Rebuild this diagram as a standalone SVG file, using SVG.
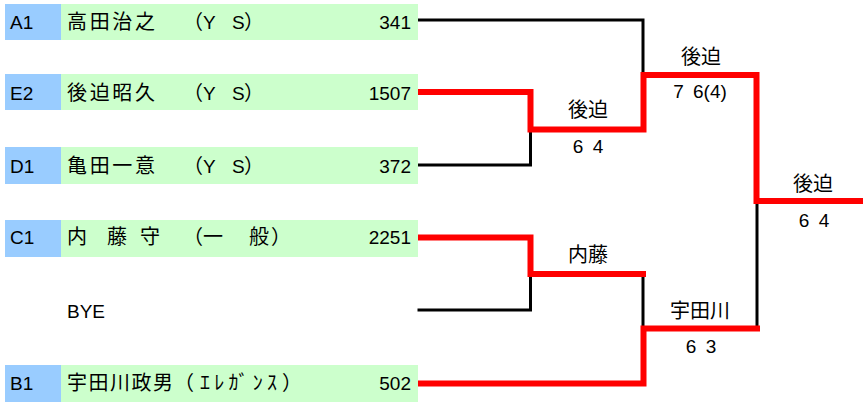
<svg xmlns="http://www.w3.org/2000/svg" width="863" height="403" viewBox="0 0 863 403">
<style>
.seed{fill:#99CCFF}
.name{fill:#CCFFCC}
.t{font-family:"Liberation Sans",Arial,sans-serif;font-size:19px;fill:#000}
.j{font-family:"Noto Sans CJK JP","Noto Sans CJK SC",sans-serif;font-size:20px;fill:#000}
.n{text-anchor:end}
.c{text-anchor:middle}
.blk{fill:none;stroke:#000;stroke-width:3;stroke-linecap:square}
.red{fill:none;stroke:#FF0000;stroke-width:6;stroke-linecap:square;stroke-linejoin:miter}
</style>
<rect width="863" height="403" fill="#fff"/>
<g id="connectors">
<path class="blk" d="M419 20 H643 V72"/>
<path class="blk" d="M419 165 H530.5 V132"/>
<path class="blk" d="M419 310 H530.5 V277"/>
<path class="blk" d="M643 277 V326"/>
<path class="blk" d="M757 326 V204"/>
<path class="red" d="M421 92 H530.5 V129.5 H643.5 V75 H756.5 V201 H863"/>
<path class="red" d="M421 237.5 H530.5 V274 H643"/>
<path class="red" d="M421 383.5 H643.5 V328.5 H757"/>
</g>
<g id="A1">
<rect class="seed" x="5" y="4" width="56" height="36"/>
<rect class="name" x="61" y="4" width="357" height="36"/>
<text class="t" x="10" y="28.5">A1</text>
<text class="j" x="67" y="28.5" textLength="88" lengthAdjust="spacing">高田治之</text>
<text class="j" x="183" y="28.5">（</text><text class="t" x="203" y="28.5">Y</text><text class="t" x="232" y="28.5">S</text><text class="j" x="244" y="28.5">）</text>
<text class="t n" x="411" y="28.5">341</text>
</g>
<g id="E2">
<rect class="seed" x="5" y="74" width="56" height="36"/>
<rect class="name" x="61" y="74" width="357" height="36"/>
<text class="t" x="10" y="99.5">E2</text>
<text class="j" x="67" y="99.5" textLength="88" lengthAdjust="spacing">後迫昭久</text>
<text class="j" x="183" y="99.5">（</text><text class="t" x="203" y="99.5">Y</text><text class="t" x="232" y="99.5">S</text><text class="j" x="244" y="99.5">）</text>
<text class="t n" x="411" y="99.5">1507</text>
</g>
<g id="D1">
<rect class="seed" x="5" y="147" width="56" height="37"/>
<rect class="name" x="61" y="147" width="357" height="37"/>
<text class="t" x="10" y="172.5">D1</text>
<text class="j" x="67" y="172.5" textLength="88" lengthAdjust="spacing">亀田一意</text>
<text class="j" x="183" y="172.5">（</text><text class="t" x="203" y="172.5">Y</text><text class="t" x="232" y="172.5">S</text><text class="j" x="244" y="172.5">）</text>
<text class="t n" x="411" y="172.5">372</text>
</g>
<g id="C1">
<rect class="seed" x="5" y="220" width="56" height="37"/>
<rect class="name" x="61" y="220" width="357" height="37"/>
<text class="t" x="10" y="243.5">C1</text>
<text class="j" x="67" y="243.5">内</text><text class="j" x="107" y="243.5">藤</text><text class="j" x="140" y="243.5">守</text>
<text class="j" x="183" y="243.5">（</text><text class="j" x="203" y="243.5">一</text><text class="j" x="249" y="243.5">般</text><text class="j" x="271" y="243.5">）</text>
<text class="t n" x="411" y="243.5">2251</text>
</g>
<g id="BYE">
<text class="t" x="67" y="318">BYE</text>
</g>
<g id="B1">
<rect class="seed" x="5" y="365" width="56" height="37"/>
<rect class="name" x="61" y="365" width="357" height="37"/>
<text class="t" x="10" y="390">B1</text>
<text class="j" x="67" y="390" textLength="106" lengthAdjust="spacing">宇田川政男</text>
<text class="j" x="174" y="390">（</text>
<text class="j" x="200" y="390" textLength="77" lengthAdjust="spacing">ｴﾚｶﾞﾝｽ</text>
<text class="j" x="282" y="390">）</text>
<text class="t n" x="411" y="390">502</text>
</g>
<g id="m1">
<text class="j c" x="588" y="117">後迫</text>
<text class="t c" x="588" y="153" word-spacing="4">6 4</text>
</g>
<g id="m2">
<text class="j c" x="588" y="262">内藤</text>
</g>
<g id="m3">
<text class="j c" x="701" y="64">後迫</text>
<text class="t c" x="700" y="98" word-spacing="4">7 6(4)</text>
</g>
<g id="m4">
<text class="j c" x="700" y="318">宇田川</text>
<text class="t c" x="701" y="353" word-spacing="4">6 3</text>
</g>
<g id="final">
<text class="j c" x="813" y="191">後迫</text>
<text class="t c" x="814" y="227" word-spacing="4">6 4</text>
</g>
</svg>
